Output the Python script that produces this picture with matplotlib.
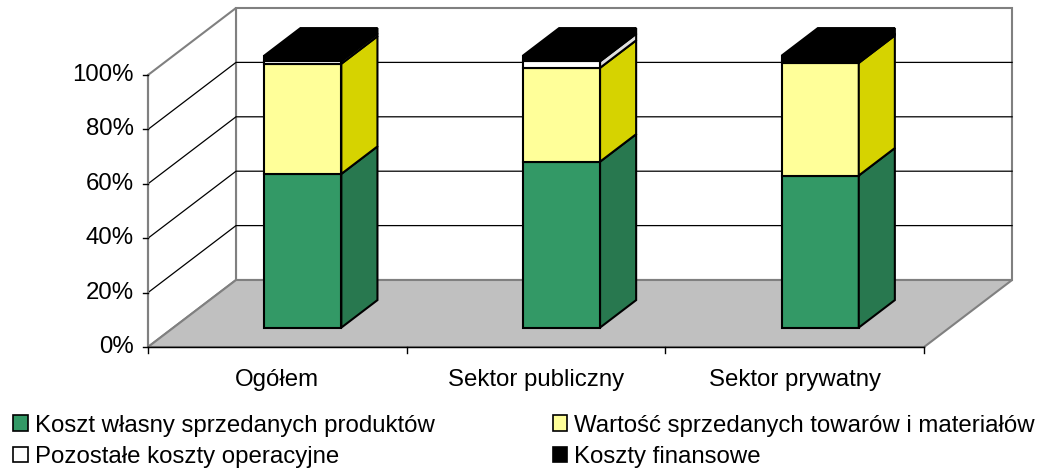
import numpy as np
import matplotlib.pyplot as plt
from matplotlib.patches import Polygon, Patch

plt.rcParams['font.family'] = ['Liberation Sans', 'DejaVu Sans']

categories = ['Ogółem', 'Sektor publiczny', 'Sektor prywatny']
series = ['Koszt własny sprzedanych produktów',
          'Wartość sprzedanych towarów i materiałów',
          'Pozostałe koszty operacyjne',
          'Koszty finansowe']
koszt_wlasny = [56.5, 61.0, 55.9]
wartosc_towarow = [40.5, 34.5, 41.4]
pozostale = [1.0, 2.4, 0.8]
finansowe = [2.0, 2.1, 1.9]
y_ticks = [0, 20, 40, 60, 80, 100]

front_cols = ['#339966', '#FFFF99', '#FFFFFF', '#000000']
side_cols = ['#28784F', '#D6D300', '#E0E0E0', '#000000']

# oblique projection: x in category units, y in percent, z = depth 0..1
PX_X = 258.7   # px per category
PX_Y = 2.72    # px per percent
DX = 88 / PX_X
DY = 67 / PX_Y
FS = 17.3


def P(x, y, z):
    return (x + z * DX, y + z * DY)


fig = plt.figure(figsize=(10.37, 4.70), dpi=100)
ax = fig.add_axes([0, 0, 1, 1])
ax.set_xlim(-148 / PX_X, (1037 - 148) / PX_X)
ax.set_ylim(-(470 - 347) / PX_Y, 347 / PX_Y)
ax.axis('off')

n = len(categories)
ymax = y_ticks[-1]
gray = '#808080'

# walls and floor
ax.add_patch(Polygon([P(0, 0, 1), P(n, 0, 1), P(n, ymax, 1), P(0, ymax, 1)],
                     fc='white', ec=gray, lw=1.5, zorder=1))
ax.add_patch(Polygon([P(0, 0, 0), P(0, 0, 1), P(0, ymax, 1), P(0, ymax, 0)],
                     fc='white', ec=gray, lw=1.5, zorder=1))
ax.add_patch(Polygon([P(0, 0, 0), P(n, 0, 0), P(n, 0, 1), P(0, 0, 1)],
                     fc='#C0C0C0', ec=gray, lw=1.5, zorder=1))

# gridlines
for v in y_ticks[1:-1]:
    pts = [P(0, v, 0), P(0, v, 1), P(n, v, 1)]
    ax.plot([p[0] for p in pts], [p[1] for p in pts], color='black', lw=0.9, zorder=2)

# value axis
ax.plot([0, 0], [0, ymax], color=gray, lw=1.5, zorder=3)
tick_x = 5 / PX_X
for v in y_ticks:
    ax.plot([-tick_x, 0], [v, v], color='black', lw=1, zorder=3)
    ax.text(-14 / PX_X, v, f'{v}%', ha='right', va='center', fontsize=FS)

# category axis
ax.plot([0, n], [0, 0], color='black', lw=1, zorder=3)
tick_y = 6 / PX_Y
for i in range(n + 1):
    ax.plot([i, i], [0, -tick_y], color='black', lw=1, zorder=3)
for i, c in enumerate(categories):
    ax.text(i + 0.5, -33 / PX_Y, c, ha='center', va='center', fontsize=FS)

# bars
w = 77 / PX_X
z0, z1 = 0.29, 0.70
data = [koszt_wlasny, wartosc_towarow, pozostale, finansowe]
for i in range(n):
    x0 = i + 0.5 - w / 2
    x1 = x0 + w
    bottom = 0
    for s, vals in enumerate(data):
        top = bottom + vals[i]
        ax.add_patch(Polygon([P(x0, bottom, z0), P(x1, bottom, z0), P(x1, top, z0), P(x0, top, z0)],
                             fc=front_cols[s], ec='black', lw=1.5, zorder=5, joinstyle='miter'))
        ax.add_patch(Polygon([P(x1, bottom, z0), P(x1, bottom, z1), P(x1, top, z1), P(x1, top, z0)],
                             fc=side_cols[s], ec='black', lw=1.5, zorder=5, joinstyle='miter'))
        bottom = top
    ax.add_patch(Polygon([P(x0, bottom, z0), P(x1, bottom, z0), P(x1, bottom, z1), P(x0, bottom, z1)],
                         fc=front_cols[-1], ec='black', lw=1.5, zorder=5))

# legend (column-wise fill)
order = [0, 2, 1, 3]
handles = [Patch(fc=front_cols[k], ec='black', lw=1.2) for k in order]
labels = [series[k] for k in order]
fig.legend(handles, labels, ncol=2, loc='upper left', bbox_to_anchor=(0.0128, 0.118),
           frameon=False, fontsize=FS, handlelength=0.6, handleheight=0.6,
           handletextpad=0.3, columnspacing=4.9, labelspacing=0.38, borderpad=0,
           borderaxespad=0)

fig.savefig('out.png', dpi=100)
